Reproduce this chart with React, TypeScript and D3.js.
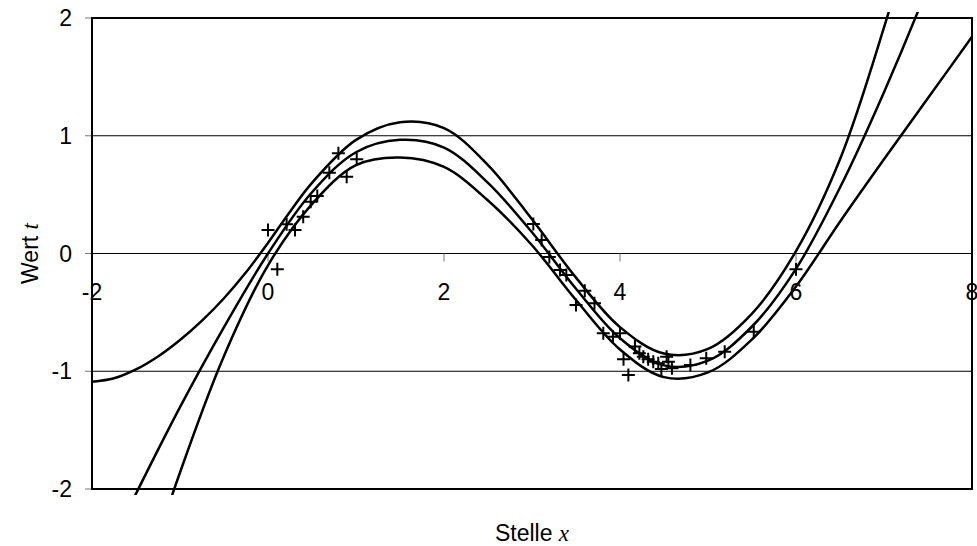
import React from "react";
import * as d3 from "d3";

// upper band curve
const upperX = [-2, -1.75, -1.5, -1.25, -1, -0.75, -0.5, -0.25, 0, 0.25, 0.5, 1, 1.5, 2, 2.5, 3, 3.5, 4, 4.5, 5, 5.5, 6, 6.5, 7, 7.5, 8];
const upperY = [-1.09, -1.06, -0.985, -0.875, -0.735, -0.57, -0.38, -0.16, 0.09, 0.355, 0.6, 0.965, 1.115, 1.065, 0.75, 0.29, -0.205, -0.625, -0.85, -0.81, -0.51, 0.02, 0.8, 1.92, 3.22, 4.72];
// fitted curve (middle)
const midX = [-2, -1.5, -1, -0.5, 0, 0.5, 1, 1.5, 2, 2.5, 3, 3.5, 4, 4.5, 5, 5.5, 6, 6.5, 7, 7.5, 8];
const midY = [-2.8, -2.04, -1.305, -0.625, 0, 0.52, 0.86, 0.965, 0.9, 0.6, 0.18, -0.3, -0.72, -0.95, -0.91, -0.62, -0.13, 0.56, 1.37, 2.27, 3.28];
// lower band curve
const lowerX = [-2, -1.5, -1, -0.5, 0, 0.5, 1, 1.5, 2, 2.5, 3, 3.5, 4, 4.5, 5, 5.5, 6, 6.5, 7, 7.5, 8];
const lowerY = [-4.4, -3.0, -1.86, -0.87, -0.1, 0.42, 0.75, 0.815, 0.735, 0.45, 0.07, -0.395, -0.815, -1.05, -1.01, -0.73, -0.28, 0.27, 0.8, 1.32, 1.84];

// measured points (Stelle x, Wert t)
const pointX = [0.0, 0.106, 0.212, 0.307, 0.4, 0.485, 0.56, 0.697, 0.8, 0.894, 1.008,
  3.015, 3.11, 3.197, 3.318, 3.39, 3.5, 3.6, 3.71, 3.81, 3.92, 4.0, 4.04, 4.095, 4.17,
  4.22, 4.265, 4.32, 4.378, 4.435, 4.47, 4.53, 4.55, 4.59, 4.8, 4.98, 5.19, 5.52, 6.0];
const pointY = [0.2, -0.134, 0.248, 0.2, 0.313, 0.44, 0.488, 0.686, 0.851, 0.652, 0.8,
  0.25, 0.115, -0.03, -0.14, -0.183, -0.437, -0.316, -0.423, -0.678, -0.706, -0.678, -0.899, -1.032, -0.79,
  -0.848, -0.876, -0.899, -0.919, -0.933, -0.98, -0.876, -0.92, -0.975, -0.947, -0.89, -0.834, -0.664, -0.134];

const xTicks = [-2, 0, 2, 4, 6, 8];
const yTicks = [-2, -1, 0, 1, 2];
const gridY = [-1, 0, 1];

const W = 977;
const H = 546;
const L = 92, R = 972, T = 18, B = 489;
const FONT = "Arial, 'Liberation Sans', sans-serif";
const SERIF = "'Times New Roman', 'Liberation Serif', serif";

export default function App() {
  const x = d3.scaleLinear().domain([-2, 8]).range([L, R]);
  const y = d3.scaleLinear().domain([-2, 2]).range([B, T]);
  const line = d3
    .line<[number, number]>()
    .x((d) => x(d[0]))
    .y((d) => y(d[1]))
    .curve(d3.curveCatmullRom.alpha(0.5));
  const curves: [number, number][][] = [
    upperX.map((v, i) => [v, upperY[i]]),
    midX.map((v, i) => [v, midY[i]]),
    lowerX.map((v, i) => [v, lowerY[i]]),
  ];
  const pts = pointX.map((px, i) => [px, pointY[i]]);

  return (
    <svg
      width={W}
      height={H}
      style={{ position: "absolute", left: 0, top: 0, background: "#fff" }}
    >
      <defs>
        <clipPath id="plotClip">
          <rect x={L} y={T - 6} width={W - L} height={B - T + 12} />
        </clipPath>
      </defs>
      <rect x={0} y={0} width={W} height={H} fill="#fff" />
      {gridY.map((g) => (
        <line key={g} x1={L} x2={R} y1={y(g)} y2={y(g)} stroke="#000" strokeWidth={1} />
      ))}
      {yTicks.map((t) => (
        <g key={t}>
          <line x1={L - 7} x2={L} y1={y(t)} y2={y(t)} stroke="#777" strokeWidth={1} />
          <text x={72} y={y(t)} dy="0.35em" textAnchor="end" fontFamily={FONT} fontSize={23} fill="#000">
            {t}
          </text>
        </g>
      ))}
      {xTicks.map((t) => (
        <g key={t}>
          <line x1={x(t)} x2={x(t)} y1={y(0)} y2={y(0) + 8} stroke="#777" strokeWidth={1} />
          <text x={x(t)} y={y(0) + 46.5} textAnchor="middle" fontFamily={FONT} fontSize={23} fill="#000">
            {t}
          </text>
        </g>
      ))}
      <rect x={L} y={T} width={R - L} height={B - T} fill="none" stroke="#000" strokeWidth={2} />
      <g clipPath="url(#plotClip)">
        {curves.map((c, i) => (
          <path key={i} d={line(c) || ""} fill="none" stroke="#000" strokeWidth={2.5} />
        ))}
      </g>
      {pts.map(([px, py], i) => (
        <path
          key={i}
          d={`M${x(px) - 6.5},${y(py)}H${x(px) + 6.5}M${x(px)},${y(py) - 6.5}V${y(py) + 6.5}`}
          stroke="#000"
          strokeWidth={2}
          fill="none"
        />
      ))}
      <text x={(L + R) / 2} y={541} textAnchor="middle" fontFamily={FONT} fontSize={23} fill="#000">
        Stelle{" "}
        <tspan fontFamily={SERIF} fontStyle="italic">
          x
        </tspan>
      </text>
      <text
        transform={`translate(38,${(T + B) / 2}) rotate(-90)`}
        textAnchor="middle"
        fontFamily={FONT}
        fontSize={23}
        fill="#000"
      >
        Wert{" "}
        <tspan fontFamily={SERIF} fontStyle="italic">
          t
        </tspan>
      </text>
    </svg>
  );
}
